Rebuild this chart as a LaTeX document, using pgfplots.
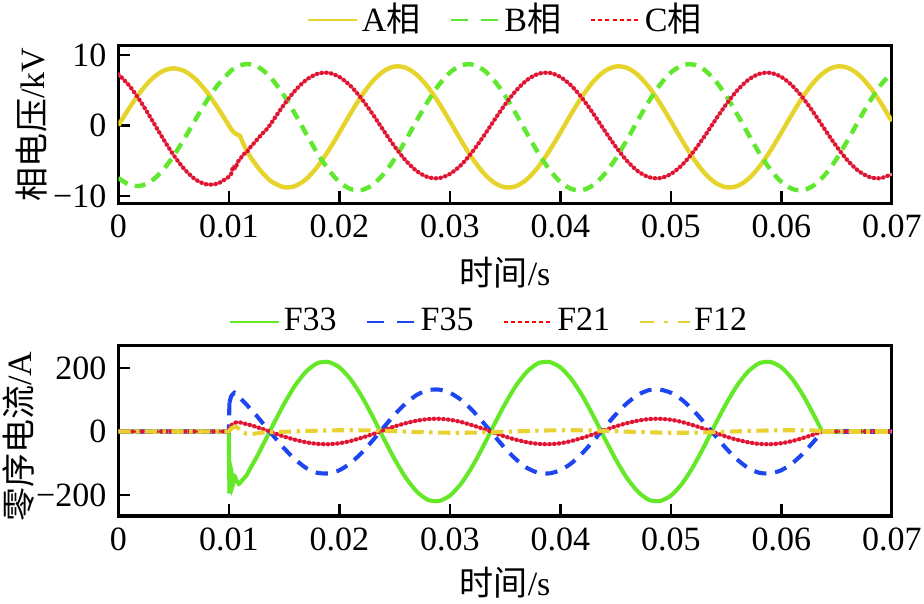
\documentclass[border=0pt]{standalone}
\usepackage{fontspec}
\setmainfont{Liberation Serif}
\newfontfamily\cjk{Noto Sans CJK SC}
\usepackage{pgfplots}
\usepackage{pgfplotstable}
\pgfplotsset{compat=1.18}

\definecolor{Ayel}{RGB}{230,212,45}
\definecolor{Bgrn}{RGB}{95,232,45}
\definecolor{Cred}{RGB}{225,20,45}
\definecolor{Cpink}{RGB}{235,120,170}
\definecolor{Fgrn}{RGB}{100,232,40}
\definecolor{Fblu}{RGB}{30,70,240}
\definecolor{Fyel}{RGB}{232,210,50}

\pgfplotstableread{
t A B C
0 0 -7.45 7.27
0.001 2.50 -8.41 5.62
0.002 4.76 -8.55 3.42
0.003 6.55 -7.86 0.88
0.004 7.70 -6.39 -1.75
0.005 8.10 -4.30 -4.20
0.006 7.70 -1.79 -6.24
0.007 6.55 0.90 -7.68
0.008 4.76 3.50 -8.35
0.009 2.50 5.75 -8.22
0.010 0.00 7.45 -7.27
0.0102 -0.5 7.77 -6.9
0.0104 -0.9 8.00 -5.8
0.0106 -1.15 8.20 -6.1
0.0108 -1.3 8.37 -5.1
0.0110 -1.45 8.50 -4.9
0.0112 -2.2 8.60 -4.3
0.0114 -2.9 8.67 -4.0
0.0116 -3.5 8.70 -3.9
0.0118 -4.05 8.69 -3.3
0.0120 -4.58 8.65 -3.0
0.0125 -5.68 8.40 -2.1
0.0130 -6.65 7.93 -1.2
0.0135 -7.46 7.26 -0.4
0.0140 -8.09 6.40 0.71
0.015 -8.76 4.23 2.98
0.016 -8.59 1.61 4.96
0.017 -7.60 -1.19 6.46
0.018 -5.88 -3.89 7.32
0.019 -3.61 -6.24 7.47
0.020 -1.01 -8.00 6.88
0.021 1.67 -9.00 5.63
0.022 4.18 -9.15 3.82
0.023 6.25 -8.43 1.64
0.024 7.69 -6.90 -0.71
0.025 8.36 -4.73 -2.98
0.026 8.19 -2.11 -4.96
0.027 7.20 0.69 -6.46
0.028 5.48 3.39 -7.32
0.029 3.21 5.74 -7.47
0.030 0.61 7.50 -6.88
0.031 -2.07 8.50 -5.63
0.032 -4.58 8.65 -3.82
0.033 -6.65 7.93 -1.64
0.034 -8.09 6.40 0.71
0.035 -8.76 4.23 2.98
0.036 -8.59 1.61 4.96
0.037 -7.60 -1.19 6.46
0.038 -5.88 -3.89 7.32
0.039 -3.61 -6.24 7.47
0.040 -1.01 -8.00 6.88
0.041 1.67 -9.00 5.63
0.042 4.18 -9.15 3.82
0.043 6.25 -8.43 1.64
0.044 7.69 -6.90 -0.71
0.045 8.36 -4.73 -2.98
0.046 8.19 -2.11 -4.96
0.047 7.20 0.69 -6.46
0.048 5.48 3.39 -7.32
0.049 3.21 5.74 -7.47
0.050 0.61 7.50 -6.88
0.051 -2.07 8.50 -5.63
0.052 -4.58 8.65 -3.82
0.053 -6.65 7.93 -1.64
0.054 -8.09 6.40 0.71
0.055 -8.76 4.23 2.98
0.056 -8.59 1.61 4.96
0.057 -7.60 -1.19 6.46
0.058 -5.88 -3.89 7.32
0.059 -3.61 -6.24 7.47
0.060 -1.01 -8.00 6.88
0.061 1.67 -9.00 5.63
0.062 4.18 -9.15 3.82
0.063 6.25 -8.43 1.64
0.064 7.69 -6.90 -0.71
0.065 8.36 -4.73 -2.98
0.066 8.19 -2.11 -4.96
0.067 7.20 0.69 -6.46
0.068 5.48 3.39 -7.32
0.069 3.21 5.74 -7.47
0.070 0.61 7.50 -6.88
}\phase

\pgfplotstableread{
t F33 F35 F21 F12
0 0 0 0 0
0.005 0 0 0 0
0.010 0 0 0 0
0.01005 -195 90 8 3
0.0102 -120 110 18 8
0.0103 -175 115 22 11
0.0105 -140 122 27 15
0.0107 -155 115 29 14
0.0109 -165 110 29 9
0.0111 -158 102 28 3
0.0113 -150 95 26 -2
0.0116 -138 85 23 -7
0.0120 -112 68 20 -8
0.0125 -82 50 14 -6
0.0130 -48 29 8.7 -3.5
0.0135 -14 8 2.5 -2.5
0.0140 21 -12.5 -3.8 -2.0
0.015 87 -53 -16 -0.9
0.016 145 -88 -26 0.4
0.017 189 -115 -34 1.6
0.018 215 -130 -39 2.6
0.019 219 -132 -40 3.4
0.020 202 -122 -37 3.9
0.021 165 -100 -30 4.0
0.022 112 -68 -20 3.7
0.023 48 -29 -8.7 3.0
0.024 -21 12.5 3.8 2.0
0.025 -87 53 16 0.9
0.026 -145 88 26 -0.4
0.027 -189 115 34 -1.6
0.028 -215 130 39 -2.6
0.029 -219 132 40 -3.4
0.030 -202 122 37 -3.9
0.031 -165 100 30 -4.0
0.032 -112 68 20 -3.7
0.033 -48 29 8.7 -3.0
0.034 21 -12.5 -3.8 -2.0
0.035 87 -53 -16 -0.9
0.036 145 -88 -26 0.4
0.037 189 -115 -34 1.6
0.038 215 -130 -39 2.6
0.039 219 -132 -40 3.4
0.040 202 -122 -37 3.9
0.041 165 -100 -30 4.0
0.042 112 -68 -20 3.7
0.043 48 -29 -8.7 3.0
0.044 -21 12.5 3.8 2.0
0.045 -87 53 16 0.9
0.046 -145 88 26 -0.4
0.047 -189 115 34 -1.6
0.048 -215 130 39 -2.6
0.049 -219 132 40 -3.4
0.050 -202 122 37 -3.9
0.051 -165 100 30 -4.0
0.052 -112 68 20 -3.7
0.053 -48 29 8.7 -3.0
0.054 21 -12.5 -3.8 -2.0
0.055 87 -53 -16 -0.9
0.056 145 -88 -26 0.4
0.057 189 -115 -34 1.6
0.058 215 -130 -39 2.6
0.059 219 -132 -40 3.4
0.060 202 -122 -37 3.9
0.061 165 -100 -30 4.0
0.062 112 -68 -20 3.7
0.063 48 -29 -8.7 3.0
0.0637 0 0 0 0
0.064 0 0 0 0
0.067 0 0 0 0
0.070 0 0 0 0
}\zero

\pgfplotsset{
  myax/.style={
    scale only axis,
    width=227.4pt,
    xmin=0, xmax=0.07,
    scaled x ticks=false, scaled y ticks=false,
    xtick={0,0.01,0.02,0.03,0.04,0.05,0.06,0.07},
    xticklabels={0,0.01,0.02,0.03,0.04,0.05,0.06,0.07},
    axis line style={line width=0.9pt},
    tick style={line width=0.7pt, black},
    major tick length=3.5pt,
    xtick pos=bottom, ytick pos=left,
    tick align=inside,
    ticklabel style={font=\fontsize{10}{12}\selectfont},
    label style={font=\fontsize{10}{12}\selectfont},
    legend style={draw=none, fill=none, legend columns=-1, anchor=center,
      font=\fontsize{10}{12}\selectfont,
      /tikz/every even column/.append style={column sep=7.5pt},
      nodes={inner sep=1pt}},
    legend image code/.code={\draw[##1] (0pt,0pt) -- (14.5pt,0pt);},
  },
  pre/.style={forget plot, restrict x to domain=0:0.01006},
  mid/.style={forget plot, smooth, tension=0.4, restrict x to domain=0.01004:0.06371},
  post/.style={forget plot, restrict x to domain=0.0636:0.0701},
  f33/.style={Fgrn, line width=1.2pt},
  f35/.style={Fblu, line width=1.2pt, dash pattern=on 3.6pt off 2.6pt},
  f21/.style={Cred, line width=1.3pt, line cap=round, dash pattern=on 0pt off 1.4pt,
    preaction={draw, Cpink, solid, line width=0.8pt}},
  f12/.style={Fyel, line width=1.2pt, dash pattern=on 3.6pt off 1.6pt on 1pt off 1.6pt},
}

\begin{document}
\begin{tikzpicture}
\path[use as bounding box] (-34.8pt,-25.58pt) rectangle (236.85pt,151.7pt);

% top axis
\begin{axis}[myax,
  at={(0pt,92.0pt)}, anchor=south west,
  height=46.2pt,
  ymin=-11, ymax=11.28,
  ytick={-10,0,10}, yticklabels={−10,0,10},
  ylabel={{\cjk 相电压}/kV},
  ylabel style={at={(axis description cs:-0.112,0.5)}, anchor=center},
  xlabel={{\cjk 时间}/s},
  xlabel style={at={(axis description cs:0.5,-0.44)}, anchor=center},
  legend style={at={(axis description cs:0.501,1.166)}},
]
\addlegendimage{Ayel, line width=0.7pt}
\addlegendentry{A{\cjk 相}}
\addlegendimage{Bgrn, line width=0.7pt, dash pattern=on 5pt off 4pt}
\addlegendentry{B{\cjk 相}}
\addlegendimage{red, line width=0.6pt, dash pattern=on 1.2pt off 0.9pt}
\addlegendentry{C{\cjk 相}}
\addplot[forget plot, Ayel, line width=1.3pt, smooth] table[x=t, y=A] {\phase};
\addplot[forget plot, Bgrn, line width=1.3pt, smooth, dash pattern=on 3.2pt off 2.2pt] table[x=t, y=B] {\phase};
\addplot[forget plot, Cred, line width=1.3pt, smooth, line cap=round, dash pattern=on 0pt off 1.4pt,
  preaction={draw, Cpink, solid, line width=0.8pt}] table[x=t, y=C] {\phase};
\end{axis}

% bottom axis
\begin{axis}[myax,
  at={(0pt,0pt)}, anchor=south west,
  height=50.0pt,
  ymin=-266, ymax=269.3,
  ytick={-200,0,200}, yticklabels={−200,0,200},
  ylabel={{\cjk 零序电流}/A},
  ylabel style={at={(axis description cs:-0.129,0.465)}, anchor=center},
  xlabel={{\cjk 时间}/s},
  xlabel style={at={(axis description cs:0.5,-0.39)}, anchor=center},
  legend style={at={(axis description cs:0.480,1.141)}},
]
\addlegendimage{Fgrn, line width=0.7pt}
\addlegendentry{F33}
\addlegendimage{Fblu, line width=0.7pt, dash pattern=on 5pt off 4pt}
\addlegendentry{F35}
\addlegendimage{red, line width=0.6pt, dash pattern=on 1.2pt off 0.9pt}
\addlegendentry{F21}
\addlegendimage{Fyel, line width=0.7pt, dash pattern=on 4pt off 3pt on 1pt off 3pt}
\addlegendentry{F12}
\addplot[pre, f33] table[x=t, y=F33] {\zero};
\addplot[mid, f33] table[x=t, y=F33] {\zero};
\addplot[post, f33] table[x=t, y=F33] {\zero};
\addplot[pre, f35] table[x=t, y=F35] {\zero};
\addplot[mid, f35] table[x=t, y=F35] {\zero};
\addplot[post, f35] table[x=t, y=F35] {\zero};
\addplot[pre, f21] table[x=t, y=F21] {\zero};
\addplot[mid, f21] table[x=t, y=F21] {\zero};
\addplot[post, f21] table[x=t, y=F21] {\zero};
\addplot[pre, f12] table[x=t, y=F12] {\zero};
\addplot[mid, f12] table[x=t, y=F12] {\zero};
\addplot[post, f12] table[x=t, y=F12] {\zero};
\end{axis}
\end{tikzpicture}
\end{document}
